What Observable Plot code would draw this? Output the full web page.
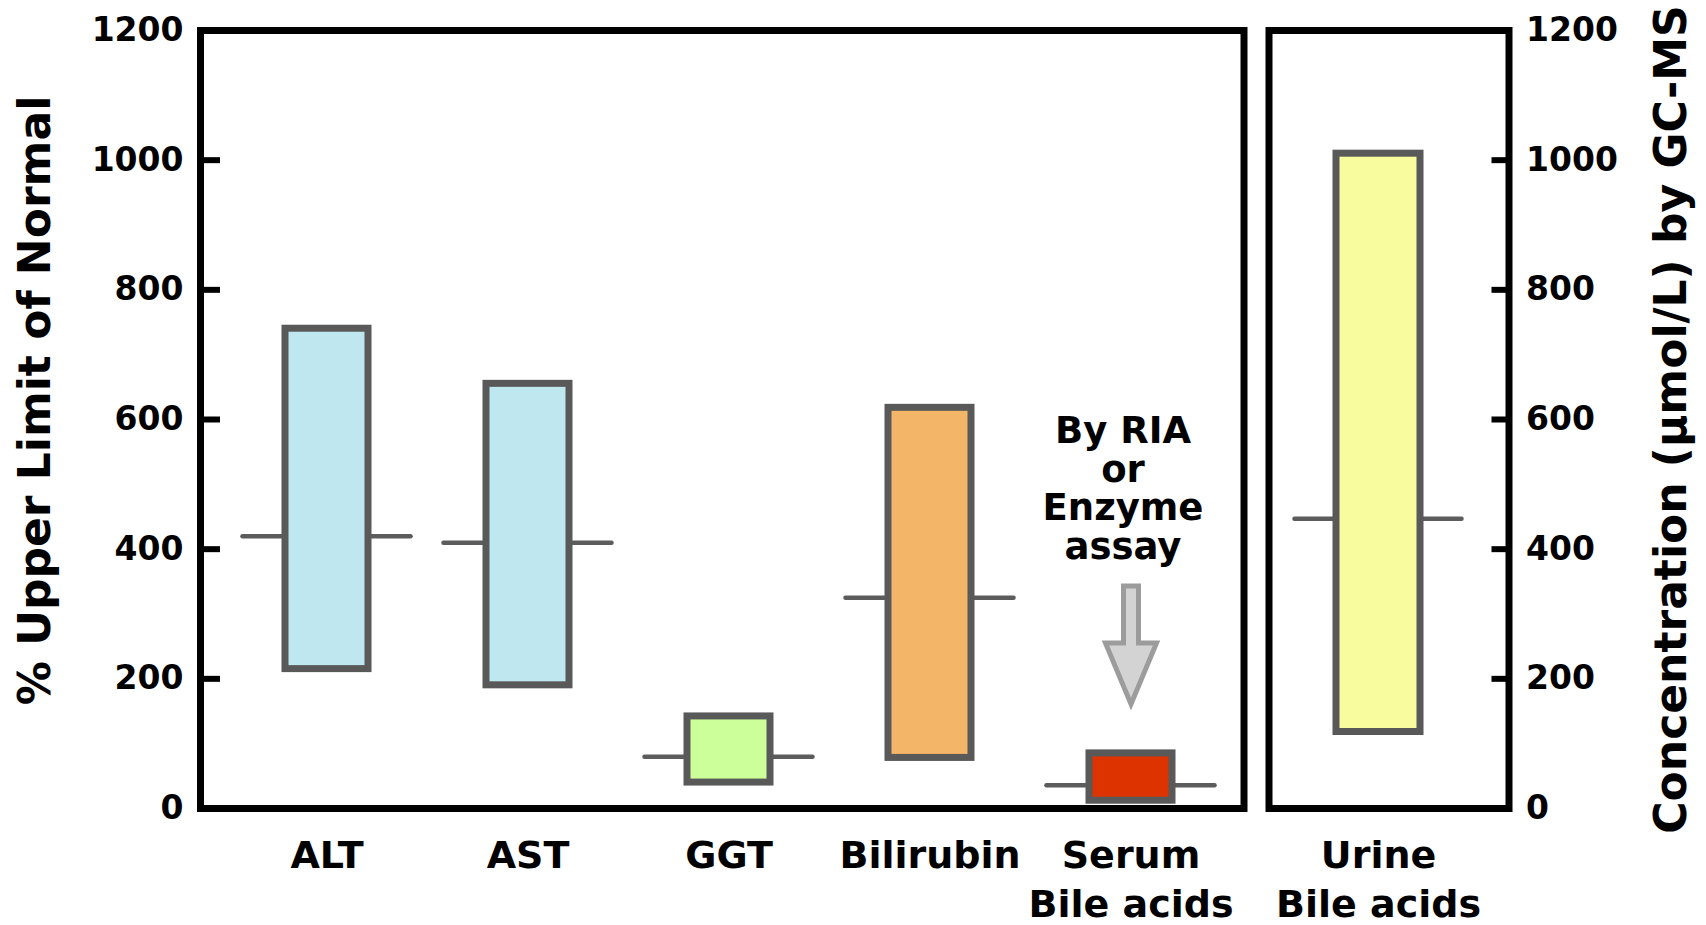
<!DOCTYPE html>
<html>
<head>
<meta charset="utf-8">
<script src="https://cdn.jsdelivr.net/npm/d3@7"></script>
<script src="https://cdn.jsdelivr.net/npm/@observablehq/plot@0.6"></script>
<style>
  body { margin: 0; background: #fff; }
  #chart { position: relative; width: 1706px; height: 925px; font-family: "DejaVu Sans", sans-serif; }
  #chart svg { position: absolute; top: 0; }
</style>
</head>
<body>
<div id="chart"></div>
<script>
// ---------- data ----------
const serumTests   = ["ALT", "AST", "GGT", "Bilirubin", "Serum\nBile acids"];
const serumLow     = [215, 190, 40, 78, 12];
const serumHigh    = [740, 655, 142, 618, 85];
const serumMedian  = [420, 410, 80, 325, 36];

const urineTests   = ["Urine\nBile acids"];
const urineLow     = [118];
const urineHigh    = [1010];
const urineMedian  = [447];

const yTicks = [0, 200, 400, 600, 800, 1000, 1200];

const leftTitle  = "% Upper Limit of Normal";
const rightTitle = "Concentration (μmol/L) by GC-MS";
const noteText   = "By RIA\nor\nEnzyme\nassay";

// ---------- styles ----------
const serumColors = ["#bfe7f0", "#bfe7f0", "#ccff99", "#f3b567", "#dd3300"];
const urineColors = ["#f8fc9f"];
const FONT = "DejaVu Sans";
const BOX = "#595959";
const MED = "#5c5c5c";

const serumRows = serumTests.map((t, i) => ({test: t, low: serumLow[i], high: serumHigh[i], median: serumMedian[i]}));
const urineRows = urineTests.map((t, i) => ({test: t, low: urineLow[i], high: urineHigh[i], median: urineMedian[i]}));
const arrowRows = [{test: serumTests[4], y: 343}];
const noteRows  = [{test: serumTests[4], y: 385, text: noteText}];

const blockArrow = {
  draw(context, l) {
    const sw = 7.5, hw = 25.5, hl = 61;
    context.moveTo(-sw, 0);
    context.lineTo(-sw, -(l - hl));
    context.lineTo(-hw, -(l - hl));
    context.lineTo(0, -l);
    context.lineTo(hw, -(l - hl));
    context.lineTo(sw, -(l - hl));
    context.lineTo(sw, 0);
    context.closePath();
  }
};

const fmt = d3.format("d");

const left = Plot.plot({
  width: 1250, height: 925,
  marginLeft: 200, marginRight: 6.5, marginTop: 30, marginBottom: 117,
  style: {fontFamily: FONT, background: "transparent", overflow: "visible"},
  x: {type: "band", domain: serumTests, paddingInner: 0.15, paddingOuter: 0.1644, align: 0.595},
  y: {domain: [0, 1200]},
  color: {type: "ordinal", domain: serumTests, range: serumColors},
  marks: [
    Plot.tickY(serumRows, {x: "test", y: "median", stroke: MED, strokeWidth: 4.5, strokeLinecap: "round", insetLeft: 1.5, insetRight: 1.5}),
    Plot.barY(serumRows, {x: "test", y1: "low", y2: "high", fill: "test", stroke: BOX, strokeWidth: 7, insetLeft: 44, insetRight: 44}),
    Plot.vector(arrowRows, {x: "test", y: "y", length: 118, rotate: 180, anchor: "start", shape: blockArrow, fill: "#d3d3d3", stroke: "#9c9c9c", strokeWidth: 5, strokeLinejoin: "miter"}),
    Plot.text(noteRows, {x: "test", y: "y", text: "text", lineAnchor: "bottom", lineHeight: 1.04, fontSize: 37, fontWeight: "bold", dx: -8, fill: "black"}),
    Plot.frame({stroke: "black", strokeWidth: 7}),
    Plot.axisY({anchor: "left", ticks: yTicks, tickFormat: fmt, tickSize: -20, tickPadding: 37, strokeWidth: 6, fontSize: 33, fontWeight: "bold", label: null, stroke: "black", fill: "black"}),
    Plot.axisX({tickSize: 0, tickPadding: 24, fontSize: 38, fontWeight: "bold", lineHeight: 1.3, label: null, fill: "black"}),
    Plot.text([leftTitle], {text: d => d, frameAnchor: "left", textAnchor: "middle", lineAnchor: "middle", rotate: -90, dx: -165, dy: -19, fontSize: 44, fontWeight: "bold", fill: "black"})
  ]
});
left.style.left = "0px";

const right = Plot.plot({
  width: 456, height: 925,
  marginLeft: 18.5, marginRight: 197.5, marginTop: 30, marginBottom: 117,
  style: {fontFamily: FONT, background: "transparent", overflow: "visible"},
  x: {type: "band", domain: urineTests, paddingInner: 0.15, paddingOuter: 0.175, align: 0.35},
  y: {domain: [0, 1200]},
  color: {type: "ordinal", domain: urineTests, range: urineColors},
  marks: [
    Plot.tickY(urineRows, {x: "test", y: "median", stroke: MED, strokeWidth: 4.5, strokeLinecap: "round", insetLeft: 1.5, insetRight: 1.5}),
    Plot.barY(urineRows, {x: "test", y1: "low", y2: "high", fill: "test", stroke: BOX, strokeWidth: 7, insetLeft: 43, insetRight: 43}),
    Plot.frame({stroke: "black", strokeWidth: 7}),
    Plot.axisY({anchor: "right", ticks: yTicks, tickFormat: fmt, tickSize: -18, tickPadding: 35, strokeWidth: 6, fontSize: 33, fontWeight: "bold", label: null, stroke: "black", fill: "black"}),
    Plot.axisX({tickSize: 0, tickPadding: 24, fontSize: 38, fontWeight: "bold", lineHeight: 1.3, label: null, fill: "black"}),
    Plot.text([rightTitle], {text: d => d, frameAnchor: "right", textAnchor: "middle", lineAnchor: "middle", rotate: -90, dx: 162.5, dy: 0, fontSize: 44, fontWeight: "bold", fill: "black"})
  ]
});
right.style.left = "1250px";

const chart = document.getElementById("chart");
chart.appendChild(left);
chart.appendChild(right);
</script>
</body>
</html>
